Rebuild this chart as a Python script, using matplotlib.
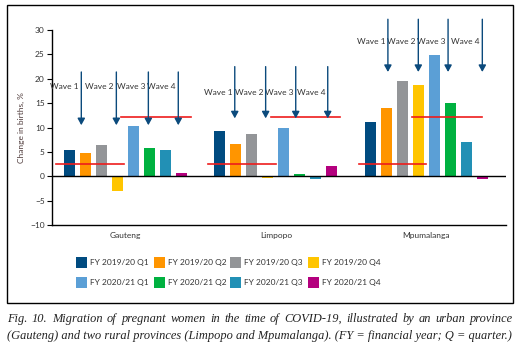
import matplotlib
matplotlib.use("Agg")
import matplotlib.pyplot as plt
import matplotlib.patches as patches
import matplotlib.transforms as mtransforms

plt.rcParams['font.family'] = ['Lato', 'DejaVu Sans']

# dane
provinces = ["Gauteng", "Limpopo", "Mpumalanga"]
quarters = ["FY 2019/20 Q1", "FY 2019/20 Q2", "FY 2019/20 Q3", "FY 2019/20 Q4",
            "FY 2020/21 Q1", "FY 2020/21 Q2", "FY 2020/21 Q3", "FY 2020/21 Q4"]
colors = ["#004b80", "#ff9500", "#939598", "#ffc500",
          "#5b9fd6", "#00b140", "#2290b5", "#b4007e"]

gauteng = [5.4, 4.8, 6.4, -2.9, 10.3, 5.8, 5.4, 0.7]
limpopo = [9.3, 6.6, 8.7, -0.3, 9.9, 0.5, -0.5, 2.2]
mpumalanga = [11.1, 14.1, 19.6, 18.8, 24.9, 15.0, 7.0, -0.5]

# linie średnie (przed / po), zakresy w jednostkach słupków w grupie
mean_before = [2.5, 2.5, 2.5]
mean_after = [12.1, 12.1, 12.1]
before_span = [(-0.85, 3.4), (-0.72, 3.5), (-0.72, 3.5)]
after_span = [(3.2, 7.6), (3.2, 7.5), (2.6, 6.95)]

# fale COVID
wave_labels = ["Wave 1", "Wave 2", "Wave 3", "Wave 4"]
wave_x = [[0.74, 2.93, 4.93, 6.8], [0.93, 2.86, 4.74, 6.74], [1.1, 3.0, 4.86, 7.0]]
wave_top = [21.4, 22.5, 32.2]
wave_tip = [10.5, 11.9, 21.4]
wave_text_y = [18.5, 17.3, 27.7]

W, H = 525, 348
fig = plt.figure(figsize=(W / 100, H / 100), dpi=100)
ax = fig.add_axes([51.7 / W, 1 - 225.3 / H, (506 - 51.7) / W, (225.3 - 30) / H])

group_gap = 9.4
bar_w = 0.69
fs = 6.0
text_col = "#333333"
arrow_col = "#0b4a7c"
below = mtransforms.ScaledTranslation(0, -7 / 100, fig.dpi_scale_trans)

for g, vals in enumerate([gauteng, limpopo, mpumalanga]):
    x0 = g * group_gap
    for i, v in enumerate(vals):
        ax.bar(x0 + i, v, width=bar_w, color=colors[i], zorder=2)
    ax.plot([x0 + before_span[g][0], x0 + before_span[g][1]], [mean_before[g]] * 2,
            color="#ee1c1c", lw=1.2, zorder=3)
    ax.plot([x0 + after_span[g][0], x0 + after_span[g][1]], [mean_after[g]] * 2,
            color="#ee1c1c", lw=1.2, zorder=3)
    for k, wx in enumerate(wave_x[g]):
        ax.annotate("", xy=(x0 + wx, wave_tip[g]), xytext=(x0 + wx, wave_top[g]),
                    arrowprops=dict(arrowstyle="-|>,head_width=0.22,head_length=0.4",
                                    color=arrow_col, lw=1.0, shrinkA=0, shrinkB=0),
                    annotation_clip=False, zorder=4)
        ax.text(x0 + wx - 0.15, wave_text_y[g], wave_labels[k], ha="right", va="center",
                fontsize=fs, color=text_col, clip_on=False)
    ax.text(x0 + 3.5, -10, provinces[g], ha="center", va="top", fontsize=fs,
            color=text_col, transform=ax.transData + below)

ax.axhline(0, color="black", lw=1.0, zorder=3)
ax.set_xlim(-1.11, 27.28)
ax.set_ylim(-10, 30)
ax.set_yticks(range(-10, 31, 5))
ax.set_yticklabels([str(t).replace("-", "\u2212") for t in range(-10, 31, 5)])
ax.set_xticks([])
ax.tick_params(axis="y", labelsize=fs, colors="black", labelcolor=text_col,
               length=3.5, width=0.8, pad=1.5)
for s in ["top", "right"]:
    ax.spines[s].set_visible(False)
for s in ["left", "bottom"]:
    ax.spines[s].set_linewidth(1.0)
ax.set_ylabel("Change in births, %", fontsize=fs, color="#4e3a3a", labelpad=4)

# legenda
col_x = [76, 153.5, 230.5, 307.5]
row_y = [262, 282]
sq = 11
for i, lab in enumerate(quarters):
    cx = col_x[i % 4]
    cy = row_y[i // 4]
    fig.patches.append(patches.Rectangle((cx / W, 1 - (cy + sq / 2) / H), sq / W, sq / H,
                                         transform=fig.transFigure, facecolor=colors[i],
                                         edgecolor="none"))
    fig.text((cx + sq + 3) / W, 1 - cy / H, lab, ha="left", va="center",
             fontsize=fs, color=text_col)

# ramka
fig.patches.append(patches.Rectangle((7.3 / W, 1 - 303.3 / H), (513 - 7.3) / W, (303.3 - 4.7) / H,
                                     transform=fig.transFigure, facecolor="none",
                                     edgecolor="black", lw=1.0))

# podpis (pierwsza linia wyjustowana)
cap_font = ["Liberation Serif", "DejaVu Serif"]
cap1 = "Fig. 10. Migration of pregnant women in the time of COVID-19, illustrated by an urban province"
cap2 = "(Gauteng) and two rural provinces (Limpopo and Mpumalanga). (FY = financial year; Q = quarter.)"
cap_fs = 8.9
renderer = fig.canvas.get_renderer()
words = cap1.split(" ")
items = [fig.text(0, 1 - 319 / H, w_, ha="left", va="center", fontsize=cap_fs, style="italic",
                  family=cap_font, color="#222222") for w_ in words]
widths = [t.get_window_extent(renderer).width for t in items]
left_px, right_px = 7, 513
gap = (right_px - left_px - sum(widths)) / (len(words) - 1)
xp = left_px
for t, wd in zip(items, widths):
    t.set_x(xp / W)
    xp += wd + gap
fig.text(left_px / W, 1 - 336.5 / H, cap2, ha="left", va="center", fontsize=cap_fs,
         style="italic", family=cap_font, color="#222222")

fig.savefig("out.png", dpi=100)
